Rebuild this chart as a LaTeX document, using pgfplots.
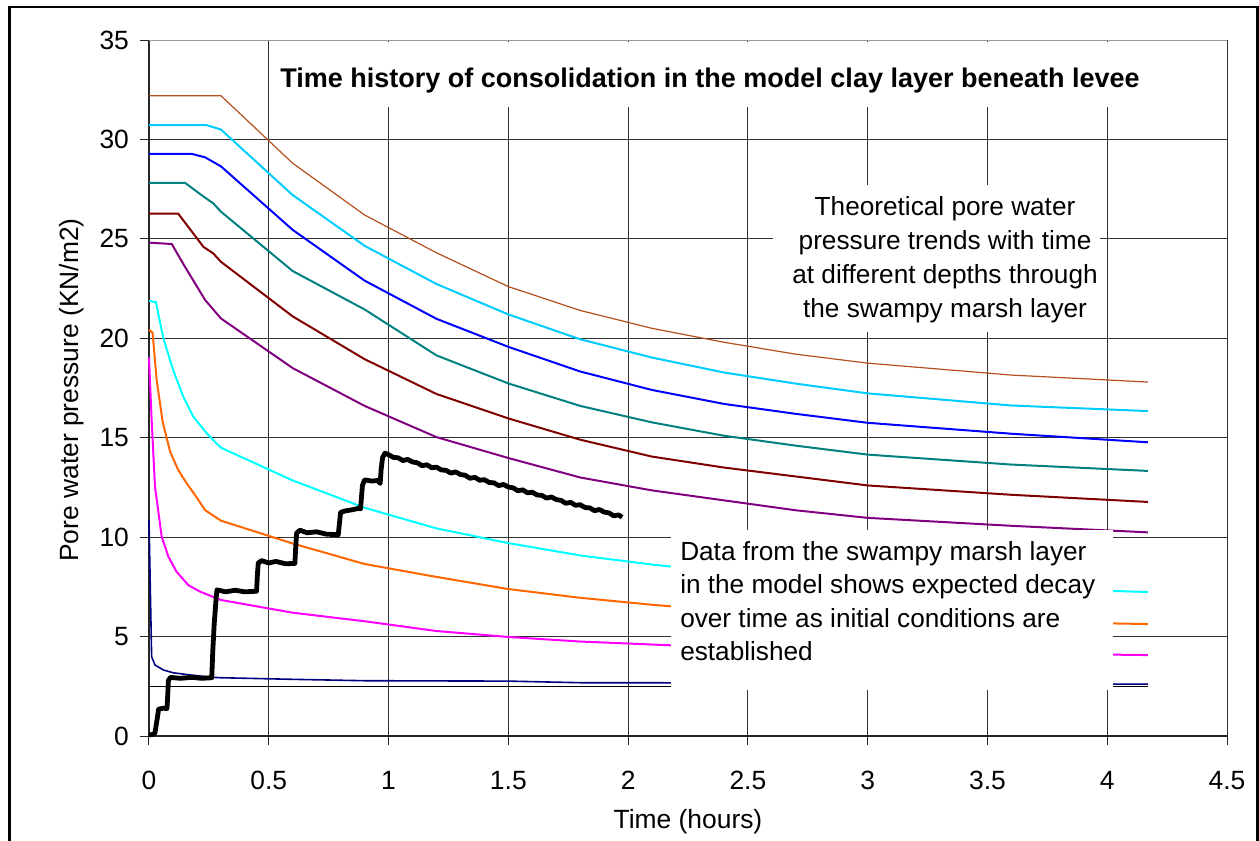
\documentclass[border=0pt]{standalone}
\usepackage{pgfplots}
\pgfplotsset{compat=1.18}
\usepackage{fontspec}
\setmainfont{Liberation Sans}
\definecolor{cbrown}{RGB}{180,80,30}
\definecolor{csky}{RGB}{0,204,255}
\definecolor{cblue}{RGB}{0,0,255}
\definecolor{cteal}{RGB}{0,128,128}
\definecolor{cdred}{RGB}{128,0,0}
\definecolor{cpurple}{RGB}{128,0,128}
\definecolor{ccyan}{RGB}{0,255,255}
\definecolor{corange}{RGB}{255,102,0}
\definecolor{cmag}{RGB}{255,0,255}
\definecolor{cnavy}{RGB}{0,0,128}
\newcommand{\fs}{\fontsize{13.2}{15}\selectfont}
\begin{document}
\begin{tikzpicture}
\begin{axis}[
  at={(0,0)}, anchor=south west, scale only axis,
  width=539pt, height=348pt,
  xmin=0, xmax=4.5, ymin=0, ymax=35,
  xtick={0,0.5,1,1.5,2,2.5,3,3.5,4,4.5},
  ytick={0,5,10,15,20,25,30},
  extra y ticks={35},
  extra y tick style={grid style={black!40, line width=0.5pt}},
  axis x line*=bottom, axis y line*=left,
  tick align=outside, major tick length=4.5pt,
  grid=major, grid style={black!80, line width=0.5pt},
  axis line style={black!85, line width=0.6pt},
  tick style={black!85, line width=0.5pt},
  ticklabel style={font=\fs},
  xticklabel style={yshift=-9.5pt},
  yticklabel style={xshift=-2pt},
  /pgf/number format/assume math mode=true,
  clip=false,
]
\addplot[cbrown, line width=0.6pt] coordinates {(0,32.2)(0.3,32.2)(0.6,28.8)(0.9,26.2)(1.2,24.3)(1.5,22.6)(1.8,21.4)(2.1,20.5)(2.4,19.8)(2.7,19.2)(3.0,18.75)(3.6,18.15)(4.17,17.8)};
\addplot[csky, line width=1pt] coordinates {(0,30.72)(0.24,30.72)(0.3,30.5)(0.6,27.2)(0.9,24.65)(1.2,22.73)(1.5,21.2)(1.8,19.95)(2.1,19.03)(2.4,18.28)(2.7,17.72)(3.0,17.23)(3.6,16.62)(4.17,16.34)};
\addplot[cblue, line width=1pt] coordinates {(0,29.27)(0.18,29.27)(0.234,29.1)(0.3,28.65)(0.6,25.45)(0.9,22.9)(1.2,20.98)(1.5,19.57)(1.8,18.33)(2.1,17.4)(2.4,16.7)(2.7,16.2)(3.0,15.75)(3.6,15.2)(4.17,14.77)};
\addplot[cteal, line width=1pt] coordinates {(0,27.82)(0.15,27.82)(0.234,27.07)(0.268,26.79)(0.3,26.37)(0.6,23.38)(0.9,21.45)(1.2,19.14)(1.5,17.73)(1.8,16.6)(2.1,15.77)(2.4,15.1)(2.7,14.6)(3.0,14.15)(3.6,13.65)(4.17,13.33)};
\addplot[cdred, line width=1pt] coordinates {(0,26.27)(0.122,26.27)(0.227,24.6)(0.268,24.27)(0.3,23.85)(0.6,21.1)(0.9,18.95)(1.2,17.2)(1.5,15.97)(1.8,14.9)(2.1,14.05)(2.4,13.5)(2.7,13.05)(3.0,12.6)(3.6,12.13)(4.17,11.77)};
\addplot[cpurple, line width=1pt] coordinates {(0,24.81)(0.095,24.74)(0.15,23.6)(0.234,21.93)(0.3,21.0)(0.6,18.5)(0.9,16.6)(1.2,15.03)(1.5,13.98)(1.8,13.0)(2.1,12.35)(2.4,11.85)(2.7,11.35)(3.0,10.97)(3.6,10.57)(4.17,10.24)};
\addplot[ccyan, line width=1pt] coordinates {(0,21.89)(0.029,21.81)(0.06,20.0)(0.101,18.4)(0.143,17.06)(0.185,16.06)(0.241,15.22)(0.3,14.5)(0.6,12.85)(0.9,11.48)(1.2,10.44)(1.5,9.7)(1.8,9.08)(2.1,8.62)(2.4,8.25)(2.7,7.95)(3.0,7.72)(3.6,7.45)(4.17,7.24)};
\addplot[corange, line width=1pt] coordinates {(0,20.42)(0.015,20.28)(0.032,17.9)(0.057,15.8)(0.088,14.3)(0.122,13.38)(0.157,12.71)(0.192,12.12)(0.234,11.36)(0.3,10.83)(0.6,9.68)(0.9,8.65)(1.2,8.0)(1.5,7.39)(1.8,6.95)(2.1,6.6)(2.4,6.3)(2.7,6.07)(3.0,5.9)(3.6,5.75)(4.17,5.63)};
\addplot[cmag, line width=1pt] coordinates {(0,19.04)(0.011,15.9)(0.025,12.54)(0.053,10.02)(0.081,9.02)(0.115,8.26)(0.164,7.59)(0.213,7.26)(0.3,6.84)(0.6,6.2)(0.9,5.77)(1.2,5.28)(1.5,4.98)(1.8,4.75)(2.1,4.6)(2.4,4.45)(2.7,4.35)(3.0,4.25)(3.6,4.15)(4.17,4.07)};
\addplot[black, line width=0.6pt] coordinates {(0,2.5)(4.17,2.5)};
\addplot[cnavy, line width=0.8pt] coordinates {(0,10.86)(0.011,3.99)(0.025,3.57)(0.06,3.32)(0.101,3.18)(0.171,3.07)(0.268,2.95)(0.3,2.93)(0.6,2.85)(0.9,2.78)(1.2,2.77)(1.5,2.76)(1.8,2.68)(2.1,2.68)(2.4,2.65)(3.0,2.63)(4.17,2.61)};
\addplot[black, line width=2.4pt, line join=round] coordinates {
(0,0.05)(0.015,0.08)(0.025,0.15)(0.03,0.55)(0.036,1.0)(0.04,1.35)(0.06,1.4)(0.075,1.38)(0.078,2.0)(0.081,2.8)(0.09,2.95)(0.13,2.9)(0.18,2.95)(0.22,2.9)(0.262,2.93)
(0.266,4.2)(0.272,5.6)(0.28,6.9)(0.284,7.35)(0.32,7.25)(0.36,7.33)(0.40,7.25)(0.449,7.28)(0.452,8.0)(0.456,8.7)(0.47,8.82)(0.50,8.7)(0.53,8.78)(0.57,8.66)(0.609,8.68)
(0.612,9.4)(0.616,10.2)(0.63,10.35)(0.66,10.22)(0.70,10.27)(0.74,10.15)(0.79,10.12)(0.795,10.7)(0.80,11.25)(0.82,11.32)(0.85,11.38)(0.875,11.45)(0.883,11.42)(0.887,12.0)(0.891,12.6)
(0.90,12.88)(0.93,12.82)(0.955,12.85)(0.965,12.7)(0.969,13.4)(0.975,14.0)(0.985,14.22)
(1.00,14.15)(1.02,14.01)(1.04,13.99)(1.06,13.85)(1.08,13.91)(1.10,13.78)(1.12,13.74)(1.14,13.59)(1.16,13.64)(1.18,13.49)
(1.20,13.52)(1.22,13.38)(1.24,13.36)(1.26,13.22)(1.28,13.28)(1.30,13.15)(1.32,13.11)(1.34,12.96)(1.36,13.01)(1.38,12.86)
(1.40,12.89)(1.42,12.75)(1.44,12.73)(1.46,12.59)(1.48,12.65)(1.50,12.52)(1.52,12.48)(1.54,12.33)(1.56,12.38)(1.58,12.23)
(1.60,12.26)(1.62,12.12)(1.64,12.10)(1.66,11.96)(1.68,12.02)(1.70,11.89)(1.72,11.85)(1.74,11.70)(1.76,11.75)(1.78,11.60)
(1.80,11.63)(1.82,11.49)(1.84,11.47)(1.86,11.33)(1.88,11.39)(1.90,11.26)(1.92,11.22)(1.94,11.07)(1.96,11.12)(1.975,11.0)};
% white boxes behind the annotations
\fill[white] (axis cs:0.513,31.63) rectangle (axis cs:4.178,34.9);
\fill[white] (axis cs:2.605,20.32) rectangle (axis cs:3.97,27.7);
\fill[white] (axis cs:2.179,2.31) rectangle (axis cs:4.023,10.36);
\node[font=\bfseries\fontsize{13.5}{15}\selectfont] at (axis cs:2.342,32.94) {Time history of consolidation in the model clay layer beneath levee};
\node[align=center, font=\fontsize{13.1}{17}\selectfont] at (axis cs:3.323,23.96) {Theoretical pore water\\pressure trends with time\\at different depths through\\the swampy marsh layer};
\node[align=left, anchor=west, inner sep=0pt, font=\fontsize{13.1}{16.7}\selectfont] at (axis cs:2.216,6.79) {Data from the swampy marsh layer\\in the model shows expected decay\\over time as initial conditions are\\established};
\node[rotate=90, font=\fs] at (axis cs:-0.321,17.4) {Pore water pressure (KN/m2)};
\node[font=\fs] at (axis cs:2.25,-4.3) {Time (hours)};
\end{axis}
\draw[line width=1.3pt] (-69.75pt,-80pt) rectangle (554.25pt,364.5pt);
\pgfresetboundingbox
\useasboundingbox (-74.5pt,-52.5pt) rectangle (555pt,368pt);
\end{tikzpicture}
\end{document}
